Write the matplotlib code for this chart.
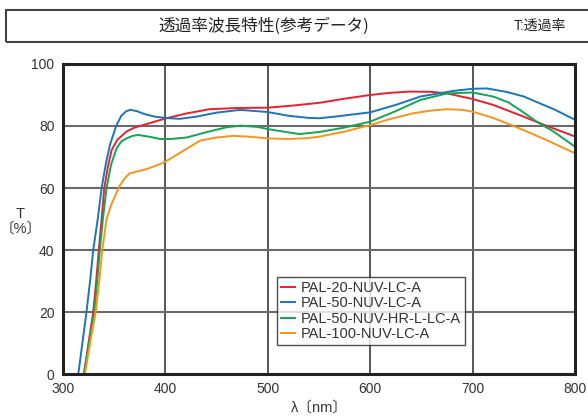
import matplotlib
matplotlib.use('Agg')
import matplotlib.pyplot as plt
from matplotlib.patches import Rectangle

plt.rcParams['font.family'] = ['Liberation Sans', 'Noto Sans CJK JP']

# データ
x_red = [320.5, 325, 329.6, 332.5, 335, 337.8, 340.4, 344, 347.5, 353, 362, 370, 378.5, 394.7,
         400, 420, 443, 470, 500, 525, 551, 575, 600, 620, 639, 660, 675, 700, 720, 746, 765, 779, 800]
y_red = [0, 10, 20, 30, 40, 50, 60, 67, 72.2, 75.5, 78.2, 79.5, 80.3, 81.9,
         82.4, 84.0, 85.4, 85.8, 85.9, 86.6, 87.5, 88.8, 90.0, 90.7, 91.1, 91.0, 90.5, 88.7, 86.8, 83.5, 81.0, 79.2, 76.6]

x_blue = [315, 319, 323, 326.5, 329.6, 334, 337.8, 342, 346, 352, 357, 362, 366, 372, 380, 390,
          400, 414, 430, 450, 473, 500, 520, 540, 551, 570, 600, 625, 649, 681, 700, 714, 733, 750, 762, 780, 800]
y_blue = [0, 10, 20, 30, 40, 50, 60, 68, 74, 80, 83.3, 84.8, 85.2, 84.8, 83.8, 83.0,
          82.6, 82.3, 83.0, 84.3, 85.2, 84.5, 83.3, 82.6, 82.5, 83.2, 84.4, 86.8, 89.5, 91.3, 92.0, 92.1, 91.0, 89.5, 87.8, 85.3, 82.0]

x_green = [320.5, 325.5, 330.6, 333.5, 336, 339, 342.6, 347, 352.4, 357, 362, 368, 373.5, 385, 395,
           405, 421, 440, 460, 473, 490, 500, 515, 531, 551, 575, 600, 625, 649, 675, 700, 720, 735, 746, 762, 779, 800]
y_green = [0, 10, 20, 30, 40, 50, 60, 67.5, 72.8, 75.0, 76.0, 76.8, 77.1, 76.5, 75.8,
           75.8, 76.3, 78.0, 79.6, 80.1, 79.7, 79.0, 78.2, 77.4, 78.1, 79.5, 81.4, 84.8, 88.4, 90.5, 90.8, 89.5, 87.6, 85.2, 81.5, 78.2, 73.3]

x_orange = [321.5, 326.5, 332, 335.5, 338.4, 342.6, 347, 351, 355, 360, 365, 372, 381.7, 394.7,
            400, 415, 434, 450, 466, 480, 500, 520, 540, 551, 575, 600, 620, 642, 660, 675, 690, 700, 720, 746, 765, 779, 800]
y_orange = [0, 10, 20, 30, 40, 50, 54.5, 57.5, 60.5, 63.0, 64.7, 65.3, 66.1, 67.7,
            68.5, 71.5, 75.3, 76.3, 76.8, 76.6, 76.0, 75.8, 76.1, 76.6, 78.2, 80.3, 82.3, 84.1, 85.0, 85.4, 85.2, 84.6, 82.6, 79.2, 76.5, 74.4, 71.2]

series = [
    ('PAL-20-NUV-LC-A', x_red, y_red, '#e8212e'),
    ('PAL-50-NUV-LC-A', x_blue, y_blue, '#1a75bc'),
    ('PAL-50-NUV-HR-L-LC-A', x_green, y_green, '#12a552'),
    ('PAL-100-NUV-LC-A', x_orange, y_orange, '#f7941d'),
]

fig = plt.figure(figsize=(5.88, 4.18), dpi=100)
ax = fig.add_axes([0.107, 0.105, 0.871, 0.742])

for name, xs, ys, c in series:
    ax.plot(xs, ys, color=c, lw=1.4, label=name)

ax.set_xlim(300, 800)
ax.set_ylim(0, 100)
ax.set_xticks([300, 400, 500, 600, 700, 800])
ax.set_yticks([0, 20, 40, 60, 80, 100])

# グリッド
for xv in [400, 500, 600, 700]:
    ax.axvline(xv, color='#3a3a3a', lw=1.2, zorder=0)
for yv in [20, 40, 60, 80]:
    ax.axhline(yv, color='#6a6a6a', lw=1.5, zorder=0)

for s in ax.spines.values():
    s.set_linewidth(2.2)
    s.set_color('#222222')
ax.tick_params(length=0, pad=6, labelsize=10, labelcolor='#333333')

ax.set_xlabel('λ〔nm〕', fontsize=10.5, color='#333333', labelpad=3)
fig.text(0.035, 0.47, 'T\n〔%〕', fontsize=10.5, color='#333333', ha='center', va='center',
         linespacing=1.05)

leg = ax.legend(loc='lower left', bbox_to_anchor=(0.418, 0.094), fontsize=10.5,
                frameon=True, fancybox=False, edgecolor='#222222', handlelength=1.0,
                handletextpad=0.4, labelspacing=0.1, borderpad=0.25, borderaxespad=0)
leg.get_frame().set_linewidth(1.0)
for t in leg.get_texts():
    t.set_color('#333333')

# タイトル枠
fig.patches.append(Rectangle((6 / 588, 1 - 42 / 418), 1.0, 32 / 418, transform=fig.transFigure,
                             fill=False, edgecolor='#444444', lw=1.5, clip_on=False))
fig.text(0.449, 1 - 26 / 418, '透過率波長特性(参考データ)', fontsize=12,
         family='Noto Sans CJK JP', color='#222222', ha='center', va='center')
fig.text(0.918, 1 - 26 / 418, 'T:透過率', fontsize=10, family=['Liberation Sans', 'Noto Sans CJK JP'],
         color='#222222', ha='center', va='center')

fig.savefig('out.png', dpi=100)
